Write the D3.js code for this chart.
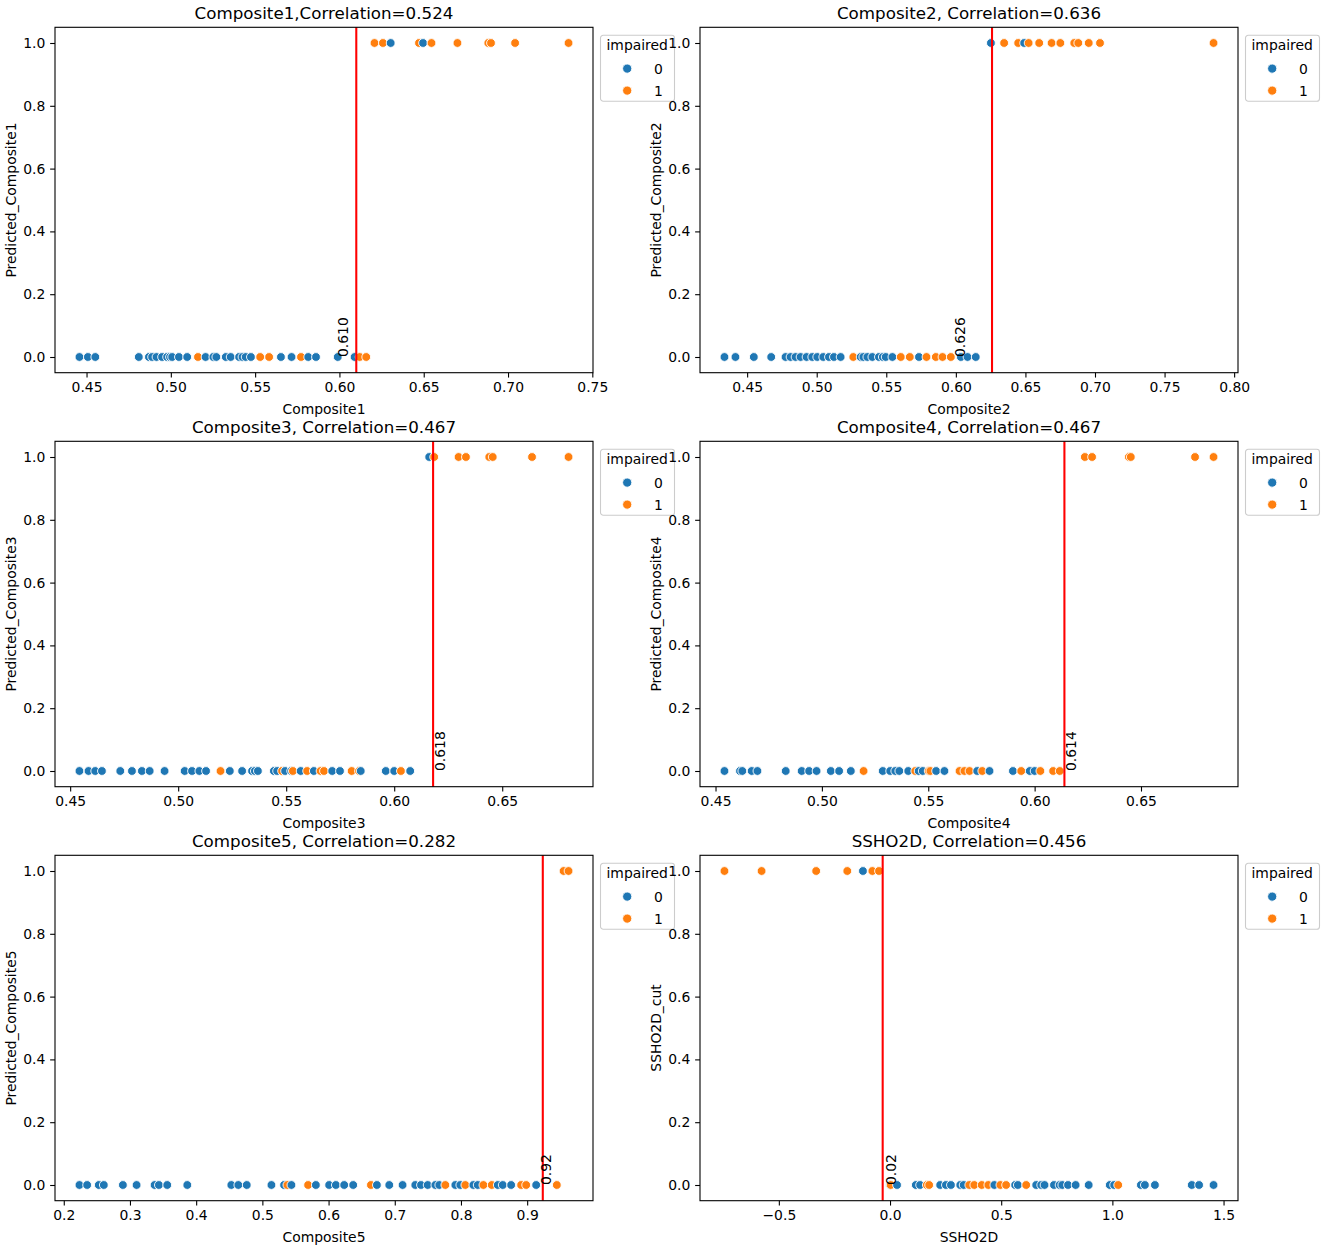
<!DOCTYPE html>
<html><head><meta charset="utf-8">
<script src="https://cdn.jsdelivr.net/npm/d3@7"></script>
<style>
body{margin:0;background:#fff}
svg text{font-family:"DejaVu Sans",sans-serif;fill:#000}
</style>
</head><body>
<svg id="chart" width="1325" height="1250"></svg>
<script>
// ---------------- DATA ----------------
const titles = ["Composite1,Correlation=0.524","Composite2, Correlation=0.636","Composite3, Correlation=0.467",
                "Composite4, Correlation=0.467","Composite5, Correlation=0.282","SSHO2D, Correlation=0.456"];
const xLabels = ["Composite1","Composite2","Composite3","Composite4","Composite5","SSHO2D"];
const yLabels = ["Predicted_Composite1","Predicted_Composite2","Predicted_Composite3","Predicted_Composite4","Predicted_Composite5","SSHO2D_cut"];
const cutValues = [0.610, 0.626, 0.618, 0.614, 0.9236, -0.033];
const cutLabels = ["0.610","0.626","0.618","0.614","0.92","0.02"];
const cutLabelX = [0.6024, 0.6028, 0.6213, 0.6173, 0.9277, 0.005];
const xTicks = [
  [0.45,0.50,0.55,0.60,0.65,0.70,0.75],
  [0.45,0.50,0.55,0.60,0.65,0.70,0.75,0.80],
  [0.45,0.50,0.55,0.60,0.65],
  [0.45,0.50,0.55,0.60,0.65],
  [0.2,0.3,0.4,0.5,0.6,0.7,0.8,0.9],
  [-0.5,0.0,0.5,1.0,1.5]
];
const xTickFormats = [".2f",".2f",".2f",".2f",".1f",".1f"];
const yTicks = [0.0,0.2,0.4,0.6,0.8,1.0];
const legendTitle = "impaired";
const legendLabels = ["0","1"];

// points: [value, predicted, impaired]
const comp1Points = [
 [0.4458,0,0],[0.4508,0,0],[0.4552,0,0],[0.481,0,0],[0.487,0,0],[0.4889,0,0],[0.4915,0,0],[0.4948,0,0],[0.4978,0,0],
 [0.4995,0,0],[0.5008,0,0],[0.5048,0,0],[0.5097,0,0],[0.5161,0,1],[0.5206,0,0],[0.5252,0,0],[0.527,0,0],[0.5326,0,0],
 [0.5355,0,0],[0.5405,0,0],[0.5425,0,0],[0.5444,0,0],[0.5475,0,0],[0.553,0,1],[0.5583,0,1],[0.5653,0,0],[0.5716,0,0],
 [0.5772,0,1],[0.5815,0,0],[0.5861,0,0],[0.599,0,0],[0.609,0,0],[0.612,0,1],[0.6159,0,1],
 [0.6208,1,1],[0.6258,1,1],[0.6304,1,0],[0.6472,1,1],[0.6496,1,0],[0.6546,1,1],[0.67,1,1],[0.6883,1,1],[0.6899,1,1],
 [0.7042,1,1],[0.7359,1,1]
];
const comp2Points = [
 [0.4337,0,0],[0.4416,0,0],[0.4548,0,0],[0.4673,0,0],[0.4776,0,0],[0.4812,0,0],[0.4848,0,0],[0.4884,0,0],[0.4927,0,0],
 [0.4968,0,0],[0.5004,0,0],[0.5047,0,0],[0.5088,0,0],[0.5124,0,0],[0.5172,0,0],[0.5263,0,1],[0.5316,0,0],[0.5335,0,0],
 [0.5364,0,0],[0.54,0,0],[0.5447,0,0],[0.5475,0,0],[0.5496,0,0],[0.5544,0,0],[0.5604,0,1],[0.5669,0,1],[0.5735,0,0],
 [0.5789,0,1],[0.5856,0,1],[0.5904,0,1],[0.5964,0,1],[0.6036,0,0],[0.6084,0,0],[0.6143,0,0],
 [0.6252,1,0],[0.6347,1,1],[0.6448,1,1],[0.6491,1,0],[0.6523,1,1],[0.6599,1,1],[0.6688,1,1],[0.6751,1,1],[0.6851,1,1],
 [0.688,1,1],[0.6955,1,1],[0.7036,1,1],[0.7852,1,1]
];
const comp3Points = [
 [0.4543,0,0],[0.4585,0,0],[0.4616,0,0],[0.4647,0,0],[0.4732,0,0],[0.4786,0,0],[0.4832,0,0],[0.4868,0,0],[0.4937,0,0],
 [0.503,0,0],[0.5064,0,0],[0.5098,0,0],[0.5129,0,0],[0.5196,0,1],[0.5239,0,0],[0.5296,0,0],[0.5342,0,0],[0.5355,0,0],
 [0.5369,0,0],[0.5443,0,0],[0.5458,0,0],[0.5481,0,1],[0.5495,0,0],[0.5523,0,0],[0.5531,0,1],[0.5567,0,0],[0.5597,0,1],
 [0.5628,0,0],[0.5659,0,1],[0.5675,0,1],[0.5713,0,0],[0.5749,0,0],[0.5803,0,1],[0.5837,0,1],[0.5845,0,0],[0.5961,0,0],
 [0.6,0,0],[0.6031,0,1],[0.6074,0,0],
 [0.6162,1,0],[0.6185,1,1],[0.6298,1,1],[0.6332,1,1],[0.644,1,1],[0.6456,1,1],[0.6638,1,1],[0.6807,1,1]
];
const comp4Points = [
 [0.4542,0,0],[0.4615,0,0],[0.4626,0,0],[0.467,0,0],[0.4697,0,0],[0.483,0,0],[0.4905,0,0],[0.494,0,0],[0.4975,0,0],
 [0.5042,0,0],[0.5081,0,0],[0.5136,0,0],[0.5196,0,1],[0.5286,0,0],[0.5321,0,0],[0.5345,0,0],[0.5364,0,0],[0.5406,0,0],
 [0.5439,0,1],[0.5455,0,0],[0.5474,0,0],[0.5502,0,1],[0.551,0,1],[0.5537,0,0],[0.5576,0,0],[0.5647,0,1],[0.567,0,1],
 [0.5694,0,1],[0.573,0,0],[0.5754,0,1],[0.5788,0,0],[0.5898,0,0],[0.5937,0,1],[0.5977,0,0],[0.6,0,0],[0.6027,0,1],
 [0.6087,0,1],[0.6118,0,1],
 [0.6236,1,1],[0.627,1,1],[0.6443,1,1],[0.6452,1,1],[0.6754,1,1],[0.6841,1,1]
];
const comp5Points = [
 [0.2237,0,0],[0.2353,0,0],[0.2529,0,0],[0.2605,0,0],[0.2893,0,0],[0.31,0,0],[0.3372,0,0],[0.3437,0,0],[0.3563,0,0],
 [0.3866,0,0],[0.4531,0,0],[0.4637,0,0],[0.4764,0,0],[0.5137,0,0],[0.5328,0,0],[0.5378,0,1],[0.5439,0,0],[0.5691,0,1],
 [0.5808,0,0],[0.6009,0,0],[0.611,0,0],[0.6236,0,0],[0.6372,0,0],[0.664,0,1],[0.673,0,0],[0.6917,0,0],[0.7118,0,0],
 [0.731,0,0],[0.7396,0,0],[0.7497,0,0],[0.7613,0,0],[0.7673,0,0],[0.7764,0,1],[0.7915,0,0],[0.799,0,0],[0.8066,0,1],
 [0.8187,0,0],[0.8253,0,0],[0.8339,0,1],[0.8465,0,1],[0.8556,0,0],[0.8631,0,0],[0.8758,0,0],[0.8909,0,1],[0.8985,0,1],
 [0.9136,0,0],[0.9448,0,1],
 [0.955,1,1],[0.9625,1,1]
];
const ssho2dPoints = [
 [0.0,0,0],[0.003,0,1],[0.0316,0,0],[0.116,0,0],[0.1354,0,0],[0.1656,0,1],[0.176,0,1],[0.2256,0,0],[0.2514,0,0],
 [0.2739,0,0],[0.3159,0,0],[0.3312,0,0],[0.3565,0,1],[0.379,0,1],[0.4124,0,1],[0.4422,0,1],[0.4693,0,0],[0.4964,0,1],
 [0.5221,0,1],[0.5627,0,0],[0.5749,0,0],[0.6124,0,1],[0.6575,0,0],[0.68,0,0],[0.6949,0,0],[0.7374,0,0],[0.7626,0,0],
 [0.7748,0,0],[0.8005,0,0],[0.8348,0,0],[0.8935,0,0],[0.9883,0,0],[1.008,0,0],[1.0262,0,1],[1.1282,0,0],[1.1462,0,0],
 [1.1913,0,0],[1.357,0,0],[1.39,0,0],[1.455,0,0],
 [-0.7446,1,1],[-0.5776,1,1],[-0.3321,1,1],[-0.1922,1,1],[-0.1218,1,0],[-0.0794,1,1],[-0.0496,1,1]
];
const panelPoints = [comp1Points, comp2Points, comp3Points, comp4Points, comp5Points, ssho2dPoints];
const palette = ["#1f77b4", "#ff7f0e"];

// ---------------- LAYOUT ----------------
const colLeft = [55, 700];
const axW = 538;
const rowTop = [27.3, 441.3, 855.3];
const axH = 345.4;
const FS = 13.9;
const tickLen = 4.86;

const svg = d3.select("#chart");

panelPoints.forEach((pts, i) => {
  const col = i % 2, row = Math.floor(i / 2);
  const L = colLeft[col], T = rowTop[row];
  const g = svg.append("g").attr("transform", `translate(${L},${T})`);

  const ext = d3.extent(pts, d => d[0]);
  const m = (ext[1] - ext[0]) * 0.05;
  const x = d3.scaleLinear().domain([ext[0] - m, ext[1] + m]).range([0, axW]);
  const y = d3.scaleLinear().domain([-0.05, 1.05]).range([axH, 0]);

  // points
  g.append("g").selectAll("circle")
    .data(pts.slice().sort((a, b) => a[0] - b[0]))
    .join("circle")
    .attr("cx", d => x(d[0]))
    .attr("cy", d => y(d[1]))
    .attr("r", 4.4)
    .attr("fill", d => palette[d[2]])
    .attr("stroke", "#fff")
    .attr("stroke-width", 0.9);

  // cut line
  g.append("line")
    .attr("x1", x(cutValues[i])).attr("x2", x(cutValues[i]))
    .attr("y1", 0).attr("y2", axH)
    .attr("stroke", "#ff0000").attr("stroke-width", 2.08);

  // cut label
  g.append("text")
    .attr("transform", `translate(${x(cutLabelX[i])},${y(0)}) rotate(-90)`)
    .attr("dy", "0.36em")
    .attr("text-anchor", "start")
    .style("font-size", FS + "px")
    .text(cutLabels[i]);

  // axes
  const xa = d3.axisBottom(x).tickValues(xTicks[i]).tickFormat(d3.format(xTickFormats[i]))
    .tickSize(tickLen).tickPadding(4.86).tickSizeOuter(0);
  const ya = d3.axisLeft(y).tickValues(yTicks).tickFormat(d3.format(".1f"))
    .tickSize(tickLen).tickPadding(4.86).tickSizeOuter(0);
  const gx = g.append("g").attr("transform", `translate(0,${axH})`).call(xa);
  const gy = g.append("g").call(ya);
  [gx, gy].forEach(a => {
    a.select(".domain").remove();
    a.selectAll("line").attr("stroke", "#000").attr("stroke-width", 1.1);
    a.selectAll("text").style("font-size", FS + "px").style("font-family", '"DejaVu Sans",sans-serif').attr("fill", "#000");
  });

  // frame
  g.append("rect").attr("x", 0).attr("y", 0).attr("width", axW).attr("height", axH)
    .attr("fill", "none").attr("stroke", "#000").attr("stroke-width", 1.1);

  // title
  g.append("text").attr("x", axW / 2).attr("y", -8.3).attr("text-anchor", "middle")
    .style("font-size", "16.7px").text(titles[i]);

  // x label
  g.append("text").attr("x", axW / 2).attr("y", axH + 41).attr("text-anchor", "middle")
    .style("font-size", FS + "px").text(xLabels[i]);

  // y label
  g.append("text").attr("transform", `translate(${-39.5},${axH / 2}) rotate(-90)`)
    .attr("text-anchor", "middle").style("font-size", FS + "px").text(yLabels[i]);

  // legend
  const lg = g.append("g").attr("transform", `translate(${axW + 7.5},8)`);
  lg.append("rect").attr("width", 74).attr("height", 66).attr("rx", 2.8)
    .attr("fill", "#fff").attr("fill-opacity", 0.8).attr("stroke", "#cccccc").attr("stroke-width", 1.1);
  lg.append("text").attr("x", 6).attr("y", 14.7).style("font-size", FS + "px").text(legendTitle);
  legendLabels.forEach((lab, k) => {
    const cy = 33.3 + k * 22;
    lg.append("circle").attr("cx", 26.7).attr("cy", cy).attr("r", 4.6)
      .attr("fill", palette[k]).attr("stroke", "#fff").attr("stroke-width", 0.9);
    lg.append("text").attr("x", 53.5).attr("y", cy).attr("dy", "0.36em")
      .style("font-size", FS + "px").text(lab);
  });
});
</script>
</body></html>
